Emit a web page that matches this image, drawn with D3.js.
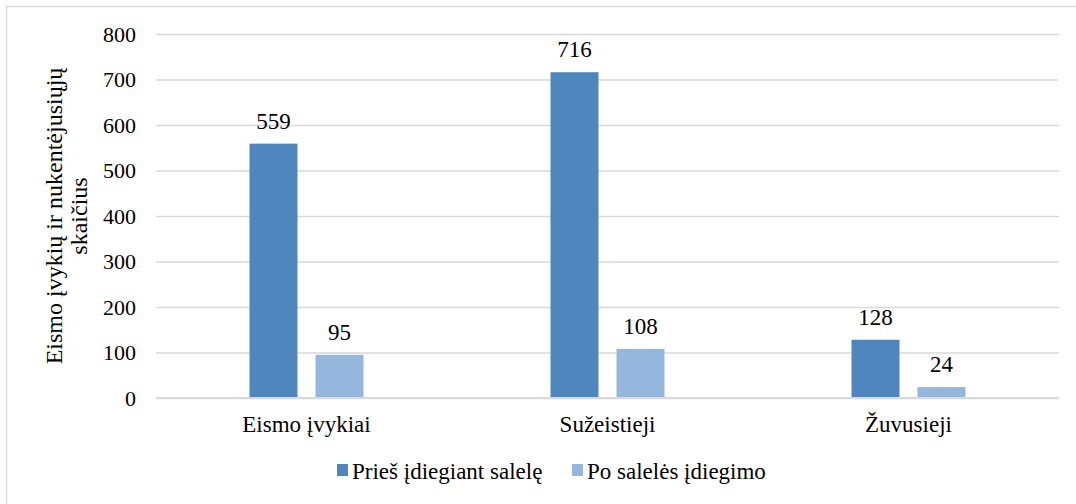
<!DOCTYPE html>
<html>
<head>
<meta charset="utf-8">
<script src="https://cdn.jsdelivr.net/npm/d3@7"></script>
<style>
  html, body { margin: 0; padding: 0; background: #fff; }
  svg { display: block; }
  svg text { font-family: "Liberation Serif", "Times New Roman", Times, serif !important; fill: #000; }
</style>
</head>
<body>
<svg id="chart" width="1076" height="504"></svg>
<script>
const categories = ["Eismo įvykiai", "Sužeistieji", "Žuvusieji"];
const seriesNames = ["Prieš įdiegiant salelę", "Po salelės įdiegimo"];
const beforeValues = [559, 716, 128];
const afterValues = [95, 108, 24];
const yTicks = [0, 100, 200, 300, 400, 500, 600, 700, 800];
const yTitleLines = ["Eismo įvykių ir nukentėjusiųjų", "skaičius"];
const colors = ["#4f86bd", "#95b7de"];

const FONT = "'Liberation Serif', 'Times New Roman', serif";
const svg = d3.select("#chart").style("font-family", FONT);
const W = 1076, H = 504;

// chart frame
svg.append("rect").attr("x", 6.5).attr("y", 6.5).attr("width", W + 10).attr("height", H + 10)
  .attr("fill", "#fff").attr("stroke", "#d9d9d9").attr("stroke-width", 1.5);

const mLeft = 156, mRight = 1059, mTop = 34, mBottom = 398;

const x0 = d3.scaleBand().domain(categories).range([mLeft, mRight]).paddingInner(0).paddingOuter(0);
const groupW = 114;
const x1 = d3.scaleBand().domain(seriesNames)
  .range([(x0.bandwidth() - groupW) / 2, (x0.bandwidth() + groupW) / 2])
  .paddingInner(0.2727).paddingOuter(0);
const y = d3.scaleLinear().domain([0, 800]).range([mBottom, mTop]);

// gridlines
const yAxis = d3.axisLeft(y).tickValues(yTicks).tickSize(-(mRight - mLeft)).tickPadding(20).tickFormat(d3.format("d"));
const gy = svg.append("g").attr("transform", `translate(${mLeft},0)`).call(yAxis);
gy.attr("font-family", null).attr("font-size", null);
gy.select(".domain").remove();
gy.selectAll(".tick line").attr("stroke", "#d9d9d9").attr("stroke-width", 1.5);
gy.selectAll(".tick text").style("font-size", "22px").style("font-family", FONT).attr("fill", "#000");

const data = categories.map((c, i) => ({ cat: c, vals: [
  { s: seriesNames[0], v: beforeValues[i], k: 0 },
  { s: seriesNames[1], v: afterValues[i], k: 1 }
]}));

const groups = svg.append("g").selectAll("g").data(data).join("g")
  .attr("transform", d => `translate(${x0(d.cat)},0)`);

groups.selectAll("rect").data(d => d.vals).join("rect")
  .attr("x", d => x1(d.s))
  .attr("y", d => y(d.v))
  .attr("width", x1.bandwidth())
  .attr("height", d => y(0) - y(d.v))
  .attr("fill", d => colors[d.k]);

groups.selectAll("text.lbl").data(d => d.vals).join("text")
  .attr("class", "lbl")
  .attr("x", d => x1(d.s) + x1.bandwidth() / 2)
  .attr("y", d => y(d.v) - 15)
  .attr("text-anchor", "middle")
  .style("font-size", "23px").style("font-family", FONT)
  .text(d => d.v);

// x axis baseline
svg.append("line").attr("x1", mLeft).attr("x2", mRight).attr("y1", y(0)).attr("y2", y(0))
  .attr("stroke", "#d9d9d9").attr("stroke-width", 2);

// category labels
const xAxis = d3.axisBottom(x0).tickSize(0).tickPadding(0);
const gx = svg.append("g").attr("transform", `translate(0,${mBottom})`).call(xAxis);
gx.attr("font-family", null).attr("font-size", null);
gx.select(".domain").remove();
gx.selectAll(".tick text").style("font-size", "23px").style("font-family", FONT)
  .attr("fill", "#000").attr("dy", null).attr("y", 34);

// y-axis title
const yt = svg.append("text").attr("transform", "translate(0,216) rotate(-90)")
  .attr("text-anchor", "middle").style("font-size", "24px").style("font-family", FONT);
yt.append("tspan").attr("x", 0).attr("y", 62).text(yTitleLines[0]);
yt.append("tspan").attr("x", 0).attr("y", 87).text(yTitleLines[1]);

// legend
const legendX = [337, 572];
const lg = svg.append("g").selectAll("g").data(seriesNames).join("g")
  .attr("transform", (d, i) => `translate(${legendX[i]},0)`);
lg.append("rect").attr("x", 0).attr("y", 464).attr("width", 11).attr("height", 12)
  .attr("fill", (d, i) => colors[i]);
lg.append("text").attr("x", 15).attr("y", 479).style("font-size", "23px").style("font-family", FONT).text(d => d);
</script>
</body>
</html>
